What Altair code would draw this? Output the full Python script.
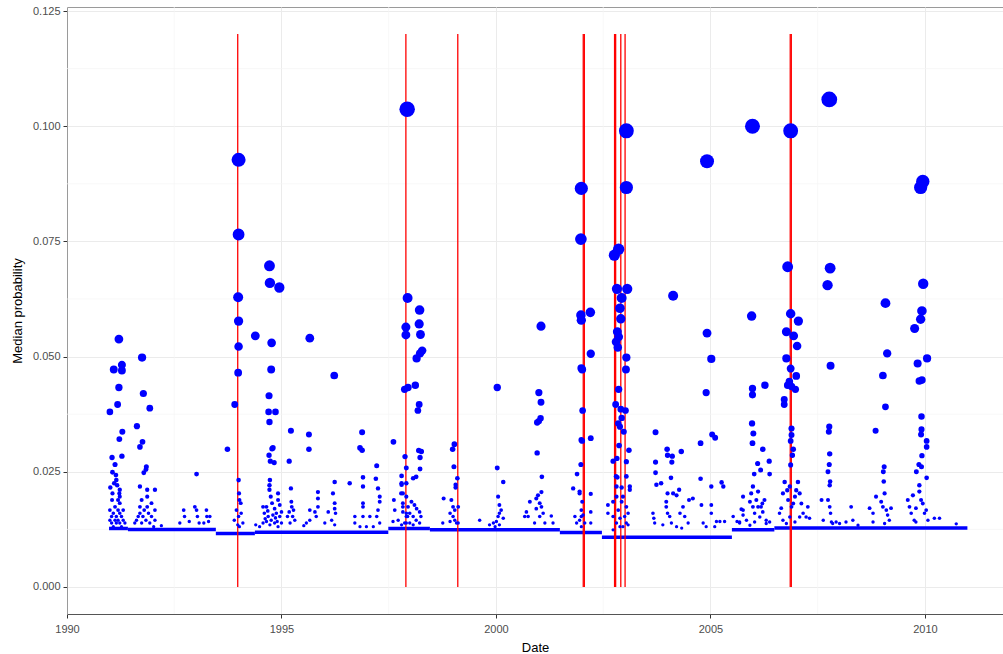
import altair as alt
import pandas as pd

# ---------------- data ----------------
# event dates (decimal years) drawn as red vertical lines
event_dates = [1993.98, 1997.90, 1999.11, 2002.035, 2002.06, 2002.765, 2002.79,
               2002.91, 2003.01, 2006.86, 2006.885]
event_top = 0.12

# baseline level segments (dense run of tiny points)
base_start = [1990.98, 1991.42, 1993.47, 1994.38, 1997.49, 1998.46, 2001.49, 2002.47, 2005.50, 2006.49]
base_end = [1991.42, 1993.47, 1994.38, 1997.49, 1998.46, 2001.49, 2002.47, 2005.50, 2006.49, 2010.99]
base_level = [0.0127, 0.0125, 0.0116, 0.0119, 0.0127, 0.0124, 0.0118, 0.0108, 0.0124, 0.0128]

# scattered observations (date, median probability)
pts_1991 = [(1991.00, 0.0380), (1991.09, 0.0472), (1991.28, 0.0482), (1991.28, 0.0470), (1991.21, 0.0538),
            (1991.21, 0.0433), (1991.18, 0.0396), (1991.22, 0.0321), (1991.29, 0.0337), (1991.28, 0.0284),
            (1991.05, 0.0281), (1991.12, 0.0266), (1991.06, 0.0249), (1991.14, 0.0243), (1991.01, 0.0216),
            (1991.17, 0.0221), (1991.22, 0.0203),
            (1991.00, 0.0167), (1991.00, 0.0145), (1991.04, 0.0153), (1991.04, 0.0139), (1991.08, 0.0160),
            (1991.08, 0.0131), (1991.12, 0.0174), (1991.12, 0.0145), (1991.15, 0.0153), (1991.15, 0.0139),
            (1991.19, 0.0189), (1991.19, 0.0167), (1991.19, 0.0145), (1991.23, 0.0211), (1991.23, 0.0196),
            (1991.23, 0.0182), (1991.23, 0.0160), (1991.23, 0.0139), (1991.27, 0.0153), (1991.27, 0.0131),
            (1991.31, 0.0145), (1991.31, 0.0167), (1991.35, 0.0139), (1991.06, 0.0203), (1991.10, 0.0225),
            (1991.15, 0.0232), (1991.05, 0.0189)]
pts_1992 = [(1991.75, 0.0498), (1991.78, 0.0420), (1991.93, 0.0388), (1991.63, 0.0349), (1991.76, 0.0315),
            (1991.70, 0.0304), (1991.85, 0.0261), (1991.84, 0.0255), (1991.79, 0.0248),
            (1991.58, 0.0139), (1991.62, 0.0145), (1991.66, 0.0153), (1991.70, 0.0160), (1991.70, 0.0174),
            (1991.70, 0.0218), (1991.74, 0.0139), (1991.74, 0.0189), (1991.77, 0.0153), (1991.80, 0.0167),
            (1991.84, 0.0145), (1991.87, 0.0196), (1991.87, 0.0211), (1991.87, 0.0174), (1991.90, 0.0160),
            (1991.93, 0.0139), (1991.97, 0.0153), (1991.97, 0.0182), (1992.05, 0.0211), (1992.05, 0.0167),
            (1992.05, 0.0145), (1992.02, 0.0131), (1992.20, 0.0133),
            (1992.63, 0.0139), (1992.72, 0.0167), (1992.74, 0.0153), (1992.85, 0.0142), (1992.98, 0.0174),
            (1993.02, 0.0167), (1993.04, 0.0153), (1993.08, 0.0139), (1993.25, 0.0167), (1993.26, 0.0153),
            (1993.33, 0.0153), (1993.30, 0.0142), (1993.19, 0.0139), (1993.02, 0.0245)]
pts_1994 = [(1993.74, 0.0299), (1993.91, 0.0396), (1994.00, 0.0927), (1994.00, 0.0765), (1993.99, 0.0629),
            (1994.00, 0.0577), (1994.00, 0.0522), (1993.99, 0.0465), (1994.00, 0.0232), (1994.39, 0.0545),
            (1994.01, 0.0203), (1994.02, 0.0189), (1994.05, 0.0182), (1993.95, 0.0167), (1994.06, 0.0160),
            (1993.90, 0.0145), (1994.00, 0.0153), (1994.10, 0.0139), (1993.98, 0.0135), (1994.02, 0.0131),
            (1994.72, 0.0697), (1994.73, 0.0660), (1994.95, 0.0650), (1994.77, 0.0530), (1994.76, 0.0472),
            (1994.71, 0.0415), (1994.70, 0.0380), (1994.86, 0.0380), (1994.72, 0.0358), (1994.80, 0.0302),
            (1994.78, 0.0300), (1994.71, 0.0286), (1994.83, 0.0270), (1994.74, 0.0273),
            (1994.73, 0.0232), (1994.72, 0.0221), (1994.72, 0.0211), (1994.75, 0.0196), (1994.57, 0.0174),
            (1994.65, 0.0174), (1994.78, 0.0182), (1994.84, 0.0170), (1994.92, 0.0203), (1994.92, 0.0189),
            (1994.96, 0.0178), (1994.60, 0.0160), (1994.69, 0.0153), (1994.80, 0.0156), (1994.88, 0.0160),
            (1994.96, 0.0153), (1995.00, 0.0163), (1994.57, 0.0139), (1994.65, 0.0142), (1994.73, 0.0135),
            (1994.84, 0.0139), (1994.92, 0.0131), (1995.00, 0.0139), (1994.49, 0.0131), (1994.40, 0.0135),
            (1994.62, 0.0148), (1994.68, 0.0165), (1994.76, 0.0145), (1994.86, 0.0150), (1994.90, 0.0142)]
pts_1996 = [(1995.22, 0.0339), (1995.18, 0.0273), (1995.64, 0.0331), (1995.64, 0.0299), (1995.66, 0.0540),
            (1996.23, 0.0459), (1996.88, 0.0336), (1996.83, 0.0302), (1996.88, 0.0297), (1997.22, 0.0263),
            (1996.90, 0.0238), (1997.20, 0.0235), (1997.61, 0.0315),
            (1995.22, 0.0214), (1995.23, 0.0185), (1995.24, 0.0174), (1995.18, 0.0163), (1995.28, 0.0167),
            (1995.26, 0.0153), (1995.14, 0.0153), (1995.31, 0.0145), (1995.20, 0.0139),
            (1995.66, 0.0167), (1995.85, 0.0206), (1995.85, 0.0192), (1995.85, 0.0174), (1995.78, 0.0163),
            (1995.81, 0.0153), (1995.66, 0.0145), (1995.58, 0.0139), (1996.09, 0.0163), (1996.20, 0.0203),
            (1996.24, 0.0182), (1996.24, 0.0170), (1996.26, 0.0160), (1996.24, 0.0228), (1996.17, 0.0145),
            (1996.01, 0.0139), (1996.24, 0.0135), (1995.52, 0.0133),
            (1996.59, 0.0225), (1996.71, 0.0153), (1996.71, 0.0139), (1996.90, 0.0218), (1996.90, 0.0182),
            (1996.90, 0.0174), (1996.90, 0.0153), (1997.06, 0.0153), (1997.25, 0.0214), (1997.29, 0.0196),
            (1997.29, 0.0185), (1997.25, 0.0167), (1997.22, 0.0153), (1997.29, 0.0139), (1997.14, 0.0131),
            (1996.83, 0.0131), (1996.98, 0.0131),
            (1997.62, 0.0189), (1997.64, 0.0167), (1997.60, 0.0142), (1997.72, 0.0145), (1997.79, 0.0203),
            (1997.80, 0.0225), (1997.83, 0.0174), (1997.91, 0.0160), (1997.94, 0.0153), (1997.91, 0.0139)]
pts_1998 = [(1997.93, 0.1037), (1997.94, 0.0627), (1998.22, 0.0601), (1997.90, 0.0564), (1997.90, 0.0547),
            (1998.21, 0.0571), (1998.24, 0.0548), (1998.28, 0.0513), (1998.23, 0.0507), (1998.15, 0.0496),
            (1997.87, 0.0429), (1997.95, 0.0433), (1998.12, 0.0438), (1998.21, 0.0396), (1998.18, 0.0383),
            (1997.88, 0.0283), (1997.91, 0.0258), (1997.80, 0.0241), (1997.91, 0.0225), (1998.20, 0.0296),
            (1998.26, 0.0294), (1998.23, 0.0281), (1998.23, 0.0256), (1998.14, 0.0239), (1998.07, 0.0236),
            (1997.80, 0.0222), (1997.83, 0.0203), (1997.83, 0.0182), (1997.91, 0.0196), (1997.95, 0.0174),
            (1997.99, 0.0160), (1998.10, 0.0178), (1998.15, 0.0170), (1998.07, 0.0153), (1998.22, 0.0163),
            (1998.25, 0.0153), (1998.14, 0.0145), (1997.99, 0.0139), (1997.87, 0.0139), (1997.80, 0.0135),
            (1998.22, 0.0139), (1998.07, 0.0135), (1997.91, 0.0153), (1998.03, 0.0185), (1997.83, 0.0163)]
pts_2000 = [(1999.03, 0.0310), (1998.99, 0.0299), (1999.02, 0.0261), (1999.10, 0.0236), (1999.06, 0.0222),
            (1999.06, 0.0216), (1998.78, 0.0192),
            (1998.76, 0.0139), (1998.96, 0.0189), (1999.00, 0.0174), (1998.93, 0.0160), (1999.04, 0.0167),
            (1999.00, 0.0153), (1998.93, 0.0142), (1999.08, 0.0139), (1999.12, 0.0174), (1999.12, 0.0139),
            (1999.04, 0.0145), (1999.62, 0.0145), (1999.85, 0.0135), (1999.94, 0.0139),
            (2000.03, 0.0433), (2000.03, 0.0258), (2000.17, 0.0228), (2000.05, 0.0196), (2000.08, 0.0178),
            (2000.12, 0.0167), (2000.08, 0.0160), (2000.05, 0.0153), (2000.17, 0.0149), (2000.01, 0.0142),
            (2000.08, 0.0135), (1999.98, 0.0131),
            (2001.00, 0.0422), (2001.05, 0.0401), (2001.00, 0.0360), (2001.04, 0.0366), (2000.96, 0.0357),
            (2000.96, 0.0291), (2001.07, 0.0239), (2001.05, 0.0566),
            (2000.67, 0.0153), (2000.71, 0.0163), (2000.79, 0.0185), (2000.75, 0.0153), (2000.94, 0.0192),
            (2000.98, 0.0199), (2001.02, 0.0182), (2001.06, 0.0174), (2001.10, 0.0160), (2001.02, 0.0153),
            (2001.14, 0.0139), (2000.90, 0.0139), (2001.29, 0.0154), (2001.33, 0.0139), (2000.94, 0.0170),
            (2001.06, 0.0206)]
pts_2002 = [(2001.99, 0.0865), (2001.98, 0.0755), (2001.98, 0.0590), (2001.99, 0.0579), (2002.20, 0.0596),
            (2002.21, 0.0506), (2001.99, 0.0475), (2002.01, 0.0472), (2002.02, 0.0383), (2001.99, 0.0319),
            (2002.01, 0.0317), (2001.98, 0.0266), (2001.89, 0.0245), (2002.21, 0.0323), (2002.21, 0.0202),
            (2001.95, 0.0207),
            (2001.80, 0.0214), (2001.84, 0.0153), (2001.88, 0.0139), (2001.95, 0.0145), (2001.99, 0.0167),
            (2002.01, 0.0185), (2001.99, 0.0153), (2002.03, 0.0156), (2001.95, 0.0203), (2001.99, 0.0131),
            (2002.07, 0.0139), (2002.21, 0.0163), (2002.21, 0.0139)]
pts_2003 = [(2003.04, 0.0990), (2003.04, 0.0867), (2002.86, 0.0733), (2002.76, 0.0720), (2002.82, 0.0647),
            (2003.06, 0.0647), (2002.93, 0.0627), (2002.89, 0.0605), (2002.91, 0.0582), (2002.83, 0.0554),
            (2002.86, 0.0543), (2002.80, 0.0532), (2002.84, 0.0520), (2003.04, 0.0498), (2003.03, 0.0472),
            (2002.86, 0.0429), (2002.79, 0.0396), (2002.91, 0.0386), (2003.02, 0.0383), (2002.85, 0.0355),
            (2002.89, 0.0348), (2002.93, 0.0367), (2002.98, 0.0337), (2002.87, 0.0307), (2003.10, 0.0297),
            (2002.73, 0.0273), (2002.82, 0.0279), (2003.04, 0.0272), (2002.80, 0.0240), (2002.83, 0.0238),
            (2003.04, 0.0240),
            (2002.61, 0.0178), (2002.61, 0.0160), (2002.73, 0.0185), (2002.73, 0.0153), (2002.81, 0.0218),
            (2002.81, 0.0196), (2002.85, 0.0167), (2002.89, 0.0149), (2002.89, 0.0131), (2002.93, 0.0216),
            (2002.93, 0.0185), (2002.96, 0.0196), (2003.00, 0.0153), (2003.04, 0.0174), (2003.08, 0.0160),
            (2003.12, 0.0211), (2003.12, 0.0218), (2003.04, 0.0139), (2002.96, 0.0131), (2002.81, 0.0139),
            (2002.73, 0.0124), (2003.08, 0.0135)]
pts_2004 = [(2003.72, 0.0336), (2003.72, 0.0271), (2003.72, 0.0248), (2003.99, 0.0299), (2004.00, 0.0286),
            (2004.11, 0.0284), (2004.10, 0.0271), (2004.32, 0.0294), (2004.08, 0.0237), (2004.13, 0.0632),
            (2003.66, 0.0160), (2003.68, 0.0149), (2003.70, 0.0139), (2003.74, 0.0222), (2003.85, 0.0225),
            (2003.97, 0.0185), (2003.97, 0.0174), (2004.00, 0.0160), (2004.05, 0.0153), (2004.00, 0.0203),
            (2004.13, 0.0203), (2004.21, 0.0199), (2004.27, 0.0211), (2004.29, 0.0160), (2004.36, 0.0174),
            (2004.40, 0.0153), (2004.48, 0.0139), (2004.50, 0.0189), (2004.59, 0.0192), (2004.09, 0.0139),
            (2004.21, 0.0131), (2003.89, 0.0135), (2004.33, 0.0128),
            (2004.92, 0.0924), (2004.92, 0.0551), (2005.02, 0.0495), (2004.90, 0.0422), (2004.77, 0.0312),
            (2004.77, 0.0235), (2005.04, 0.0331), (2005.11, 0.0324), (2005.02, 0.0218),
            (2004.79, 0.0178), (2004.83, 0.0139), (2005.02, 0.0160), (2005.02, 0.0178), (2005.14, 0.0142),
            (2005.26, 0.0227), (2005.30, 0.0218), (2005.22, 0.0142), (2005.33, 0.0142), (2004.90, 0.0131),
            (2005.10, 0.0131), (2005.53, 0.0153), (2005.62, 0.0142), (2005.68, 0.0139), (2005.76, 0.0196),
            (2005.76, 0.0167), (2005.84, 0.0145)]
pts_2006 = [(2005.98, 0.1000), (2005.96, 0.0588), (2005.98, 0.0431), (2005.98, 0.0417), (2006.27, 0.0438),
            (2005.97, 0.0355), (2006.00, 0.0333), (2005.98, 0.0312), (2006.22, 0.0299), (2006.37, 0.0273),
            (2006.10, 0.0268), (2006.17, 0.0254), (2006.02, 0.0245), (2006.38, 0.0245),
            (2005.68, 0.0141), (2005.76, 0.0156), (2005.72, 0.0169), (2005.92, 0.0185), (2005.95, 0.0203),
            (2005.99, 0.0218), (2006.07, 0.0189), (2006.11, 0.0207), (2006.18, 0.0174), (2006.03, 0.0160),
            (2006.15, 0.0152), (2006.22, 0.0163), (2006.30, 0.0145), (2006.03, 0.0141), (2005.92, 0.0134),
            (2006.30, 0.0138), (2006.38, 0.0141), (2006.26, 0.0189), (2006.11, 0.0174), (2005.99, 0.0174),
            (2006.21, 0.0181)]
pts_2007 = [(2006.87, 0.0990), (2006.80, 0.0695), (2006.87, 0.0593), (2007.05, 0.0577), (2006.77, 0.0554),
            (2006.94, 0.0545), (2007.02, 0.0523), (2006.77, 0.0496), (2006.87, 0.0474), (2007.00, 0.0458),
            (2006.98, 0.0429), (2006.84, 0.0446), (2006.80, 0.0438), (2006.89, 0.0435), (2006.72, 0.0407),
            (2006.72, 0.0396), (2006.89, 0.0344), (2006.89, 0.0330), (2006.87, 0.0317), (2006.93, 0.0299),
            (2006.91, 0.0286), (2006.87, 0.0265),
            (2006.61, 0.0160), (2006.65, 0.0171), (2006.69, 0.0203), (2006.73, 0.0228), (2006.79, 0.0210),
            (2006.81, 0.0189), (2006.85, 0.0218), (2006.89, 0.0174), (2006.93, 0.0181), (2006.97, 0.0196),
            (2007.00, 0.0210), (2007.04, 0.0228), (2007.08, 0.0203), (2007.08, 0.0152), (2007.12, 0.0181),
            (2007.16, 0.0160), (2007.23, 0.0152), (2007.27, 0.0174), (2007.31, 0.0149), (2006.77, 0.0138),
            (2006.97, 0.0141), (2006.85, 0.0152), (2006.69, 0.0145),
            (2007.77, 0.1058), (2007.79, 0.0692), (2007.73, 0.0655), (2007.80, 0.0480), (2007.77, 0.0348),
            (2007.76, 0.0337), (2007.78, 0.0289), (2007.77, 0.0266), (2007.74, 0.0250), (2007.79, 0.0229),
            (2007.59, 0.0189), (2007.63, 0.0145), (2007.74, 0.0189), (2007.78, 0.0174), (2007.80, 0.0160),
            (2007.82, 0.0141), (2007.85, 0.0138), (2007.93, 0.0141), (2007.78, 0.0221),
            (2008.01, 0.0138), (2008.16, 0.0141), (2008.28, 0.0174), (2008.32, 0.0145), (2008.44, 0.0134)]
pts_2009 = [(2009.08, 0.0616), (2009.12, 0.0507), (2009.02, 0.0459), (2009.08, 0.0391), (2008.85, 0.0339),
            (2009.05, 0.0261), (2009.03, 0.0250), (2009.04, 0.0229),
            (2008.71, 0.0171), (2008.79, 0.0160), (2008.86, 0.0196), (2008.98, 0.0185), (2009.02, 0.0174),
            (2009.06, 0.0203), (2009.10, 0.0167), (2009.13, 0.0156), (2009.17, 0.0145), (2009.21, 0.0171),
            (2008.79, 0.0141), (2009.06, 0.0138),
            (2009.95, 0.0880), (2009.90, 0.0867), (2009.96, 0.0658), (2009.93, 0.0599), (2009.90, 0.0581),
            (2009.76, 0.0561), (2009.83, 0.0485), (2010.05, 0.0496), (2009.87, 0.0447), (2009.93, 0.0449),
            (2009.92, 0.0370), (2009.92, 0.0342), (2009.91, 0.0331), (2010.04, 0.0317), (2010.04, 0.0304),
            (2009.93, 0.0285), (2009.86, 0.0266), (2009.92, 0.0261), (2010.04, 0.0237), (2009.80, 0.0250),
            (2009.60, 0.0189), (2009.64, 0.0174), (2009.68, 0.0160), (2009.72, 0.0199), (2009.75, 0.0145),
            (2009.79, 0.0171), (2009.87, 0.0207), (2009.87, 0.0221), (2009.91, 0.0189), (2009.95, 0.0181),
            (2009.99, 0.0160), (2010.03, 0.0167), (2010.07, 0.0145), (2009.79, 0.0141), (2010.22, 0.0149),
            (2010.34, 0.0149), (2010.73, 0.0137)]

x_major = [1990, 1995, 2000, 2005, 2010]
x_minor = [1992.5, 1997.5, 2002.5, 2007.5]
y_major = [0.0, 0.025, 0.05, 0.075, 0.1, 0.125]
y_minor = [0.0125, 0.0375, 0.0625, 0.0875, 0.1125]

# ---------------- tables ----------------
all_pts = (pts_1991 + pts_1992 + pts_1994 + pts_1996 + pts_1998 + pts_2000 +
           pts_2002 + pts_2003 + pts_2004 + pts_2006 + pts_2007 + pts_2009)
points = pd.DataFrame(all_pts, columns=["date", "prob"])
base = pd.DataFrame({"start": base_start, "end": base_end, "level": base_level})
events = pd.DataFrame({"date": event_dates, "low": 0.0, "high": event_top})
gx = pd.DataFrame({"x": x_minor})
gy = pd.DataFrame({"y": y_minor})

XDOM = [1990.0, 2011.82]
YDOM = [-0.00586, 0.12587]
xs = alt.Scale(domain=XDOM, nice=False, zero=False)
ys = alt.Scale(domain=YDOM, nice=False, zero=False)

FONT = "Liberation Sans"
x_axis = alt.Axis(values=x_major, format="d", title="Date", grid=True, gridColor="#ebebeb",
                  gridWidth=1, domainColor="#555555", tickColor="#333333", tickSize=4,
                  labelColor="#4d4d4d", labelFontSize=11, labelPadding=5, labelFont=FONT,
                  labelFlush=False, titleFont=FONT, titleFontSize=13, titleFontWeight="normal",
                  titleColor="#000000", titlePadding=7)
y_axis = alt.Axis(values=y_major, format=".3f", title="Median probability", grid=True,
                  gridColor="#ebebeb", gridWidth=1, domainColor="#9a9a9a", tickColor="#333333",
                  tickSize=4, labelColor="#4d4d4d", labelFontSize=11, labelPadding=3,
                  labelFlush=False, labelFont=FONT, titleFont=FONT, titleFontSize=13,
                  titleFontWeight="normal", titleColor="#000000", titlePadding=8)

minor_x = alt.Chart(gx).mark_rule(color="#f5f5f5", strokeWidth=0.7).encode(
    x=alt.X("x:Q", scale=xs, axis=x_axis))
minor_y = alt.Chart(gy).mark_rule(color="#f5f5f5", strokeWidth=0.7).encode(
    y=alt.Y("y:Q", scale=ys, axis=y_axis))

baseline = alt.Chart(base).mark_rule(color="#0000ff", strokeWidth=3.5).encode(
    x=alt.X("start:Q", scale=xs), x2="end:Q", y=alt.Y("level:Q", scale=ys))

red = alt.Chart(events).mark_rule(color="#ff0000", strokeWidth=1.3).encode(
    x=alt.X("date:Q", scale=xs), y=alt.Y("low:Q", scale=ys), y2="high:Q")

dots = alt.Chart(points).transform_calculate(
    sz="pow(1.5 + 135 * datum.prob, 2)"
).mark_point(filled=True, shape="circle", color="#0000ff", opacity=1, strokeWidth=0).encode(
    x=alt.X("date:Q", scale=xs),
    y=alt.Y("prob:Q", scale=ys),
    size=alt.Size("sz:Q", scale=None, legend=None),
)

chart = alt.layer(minor_x, minor_y, baseline, red, dots).properties(
    width=936, height=607,
    padding={"left": 67, "top": 7, "right": 0, "bottom": 40},
    autosize=alt.AutoSizeParams(type="none"),
    background="white",
).configure_view(stroke="#9a9a9a", strokeWidth=1)

chart.save("out.html", embed_options={"renderer": "svg", "actions": False})
